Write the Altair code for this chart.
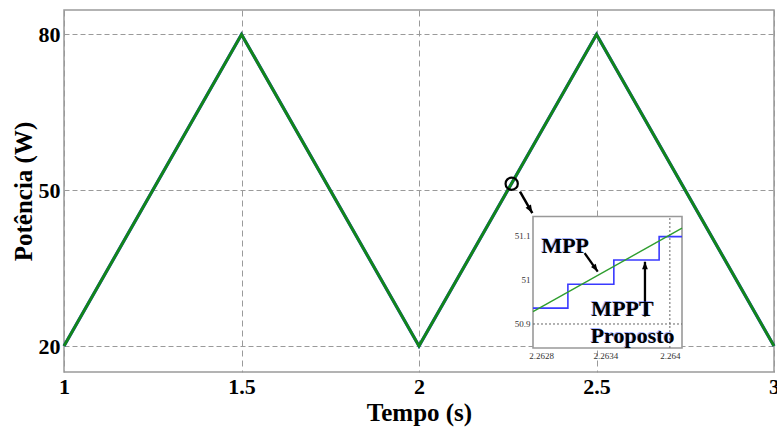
import altair as alt
import pandas as pd

# ---------------- data ----------------
tempo = [1.0, 1.5, 2.0, 2.5, 3.0]
potencia = [20, 80, 20, 80, 20]

# inset (zoom) data
inset_t_green = [2.262725, 2.264113]
inset_p_green = [50.928, 51.117]
inset_t_blue = [2.262725, 2.26305, 2.263478, 2.2639, 2.264113]
inset_p_blue = [50.936, 50.990, 51.045, 51.098, 51.098]

inset_xdomain = [2.262725, 2.264113]
inset_ydomain = [50.8456, 51.1435]
inset_xticks = [2.2628, 2.2634, 2.264]
inset_yticks = [50.9, 51.0, 51.1]
inset_gridx = [2.264]
inset_gridy = [50.9]

x_ticks = [1, 1.5, 2, 2.5, 3]
y_ticks = [20, 50, 80]

marker_t = [2.2611]
marker_p = [51.25]
arrow_main = {"t0": [2.2845], "p0": [49.71], "t1": [2.3192], "p1": [45.6]}
arrow_mpp = {"t0": [2.263206], "p0": [51.0605], "t1": [2.263328], "p1": [51.0188]}
arrow_mppt = {"t0": [2.263768], "p0": [50.917], "t1": [2.263768], "p1": [51.041]}

labels_txt = ["MPP", "MPPT", "Proposto"]
labels_t = [2.263025, 2.263559, 2.263653]
labels_p = [51.077, 50.935, 50.873]

W, H = 710, 362
FONT = "Liberation Serif"
GREEN = "#12861a"
BLUE = "#3a3aff"
ARROW = "M0,0 L-0.65,1.7 L0.65,1.7 Z"
NUM = "'' + datum.value"

main_df = pd.DataFrame({"t": tempo, "p": potencia})
mk_df = pd.DataFrame({"t": marker_t, "p": marker_p})
am_df = pd.DataFrame(arrow_main)

sx = alt.Scale(domain=[1, 3], nice=False, zero=False)
sy = alt.Scale(domain=[15, 84.7], nice=False, zero=False)

ax_x = alt.Axis(values=x_ticks, labelExpr=NUM, grid=True, gridDash=[6, 4], gridColor="#9a9a9a",
                gridWidth=1, domain=False, ticks=False, labelFont=FONT, labelFontWeight="bold",
                labelFontSize=22, labelColor="black", labelPadding=4, labelFlush=False,
                title="Tempo (s)", titleFont=FONT, titleFontWeight="bold", titleFontSize=25,
                titleColor="black", titlePadding=3)
ax_y = alt.Axis(values=y_ticks, labelExpr=NUM, grid=True, gridDash=[5, 3], gridColor="#9a9a9a",
                gridWidth=1, domain=False, ticks=False, labelFont=FONT, labelFontWeight="bold",
                labelFontSize=22, labelColor="black", labelPadding=4, labelFlush=False,
                title="Potência (W)", titleFont=FONT, titleFontWeight="bold", titleFontSize=25,
                titleColor="black", titlePadding=2)

mx = alt.X("t:Q", scale=sx, axis=ax_x)
my = alt.Y("p:Q", scale=sy, axis=ax_y)

blue_main = alt.Chart(main_df).mark_line(color=BLUE, strokeWidth=3.2).encode(x=mx, y=my)
green_main = alt.Chart(main_df).mark_line(color=GREEN, strokeWidth=3).encode(x=mx, y=my)
circle = alt.Chart(mk_df).mark_point(shape="circle", filled=False, color="black", strokeWidth=2.2,
                                     size=150, opacity=1).encode(x=mx, y=my)
shaft1 = alt.Chart(am_df).mark_rule(color="black", strokeWidth=2.5).encode(
    x=alt.X("t0:Q", scale=sx, axis=ax_x), y=alt.Y("p0:Q", scale=sy, axis=ax_y),
    x2="t1:Q", y2="p1:Q")
head1 = alt.Chart(am_df).mark_point(shape=ARROW, filled=True, color="black", size=90,
                                    angle=150, opacity=1).encode(
    x=alt.X("t1:Q", scale=sx, axis=ax_x), y=alt.Y("p1:Q", scale=sy, axis=ax_y))

main_group = alt.layer(blue_main, green_main, circle, shaft1, head1)

# ---------------- inset ----------------
isx = alt.Scale(domain=inset_xdomain, range=[469, 618], nice=False, zero=False)
isy = alt.Scale(domain=inset_ydomain, range=[338, 206.5], nice=False, zero=False)
iax_x = alt.Axis(values=inset_xticks, labelExpr=NUM, orient="bottom", offset=-24, grid=False,
                 domain=False, ticks=False, labelFont=FONT, labelFontSize=9, labelColor="#333",
                 labelPadding=3, labelFlush=False, title=None)
iax_y = alt.Axis(values=inset_yticks, labelExpr=NUM, orient="left", offset=-469, grid=False,
                 domain=False, ticks=False, labelFont=FONT, labelFontSize=9, labelColor="#333",
                 labelPadding=3, labelFlush=False, title=None)

box_df = pd.DataFrame({"x0": [inset_xdomain[0]], "x1": [inset_xdomain[1]],
                       "y0": [inset_ydomain[0]], "y1": [inset_ydomain[1]]})
box = alt.Chart(box_df).mark_rect(fill="white", stroke="#999999", strokeWidth=1.6).encode(
    x=alt.X("x0:Q", scale=isx, axis=iax_x), x2="x1:Q",
    y=alt.Y("y0:Q", scale=isy, axis=iax_y), y2="y1:Q")

gx_df = pd.DataFrame({"gx": inset_gridx, "y0": [inset_ydomain[0]], "y1": [inset_ydomain[1]]})
gridx = alt.Chart(gx_df).mark_rule(color="#666", strokeWidth=1, strokeDash=[2, 2]).encode(
    x=alt.X("gx:Q", scale=isx, axis=iax_x),
    y=alt.Y("y0:Q", scale=isy, axis=iax_y), y2="y1:Q")
gy_df = pd.DataFrame({"gy": inset_gridy, "x0": [inset_xdomain[0]], "x1": [inset_xdomain[1]]})
gridy = alt.Chart(gy_df).mark_rule(color="#666", strokeWidth=1, strokeDash=[2, 2]).encode(
    y=alt.Y("gy:Q", scale=isy, axis=iax_y),
    x=alt.X("x0:Q", scale=isx, axis=iax_x), x2="x1:Q")

blue_df = pd.DataFrame({"t": inset_t_blue, "p": inset_p_blue})
green_df = pd.DataFrame({"t": inset_t_green, "p": inset_p_green})
ix = alt.X("t:Q", scale=isx, axis=iax_x)
iy = alt.Y("p:Q", scale=isy, axis=iax_y)
blue_in = alt.Chart(blue_df).mark_line(color=BLUE, strokeWidth=1.6, interpolate="step-after").encode(x=ix, y=iy)
green_in = alt.Chart(green_df).mark_line(color="#2f9e2f", strokeWidth=1.4).encode(x=ix, y=iy)

arr_df = pd.DataFrame({k: arrow_mpp[k] + arrow_mppt[k] for k in arrow_mpp})
arr_df["ang"] = [145, 0]
shafts = alt.Chart(arr_df).mark_rule(color="black", strokeWidth=2.3).encode(
    x=alt.X("t0:Q", scale=isx, axis=iax_x), y=alt.Y("p0:Q", scale=isy, axis=iax_y),
    x2="t1:Q", y2="p1:Q")
heads = alt.Chart(arr_df).mark_point(shape=ARROW, filled=True, color="black", size=80,
                                     opacity=1).encode(
    x=alt.X("t1:Q", scale=isx, axis=iax_x), y=alt.Y("p1:Q", scale=isy, axis=iax_y),
    angle=alt.Angle("ang:Q", scale=None))

lab_df = pd.DataFrame({"txt": labels_txt, "t": labels_t, "p": labels_p})
labels_shadow = alt.Chart(lab_df).mark_text(font=FONT, fontWeight="bold", fontSize=22,
                                            color="#3050ff", opacity=0.45, dx=-1, dy=-1,
                                            align="center", baseline="middle").encode(
    x=ix, y=iy, text="txt:N")
labels = alt.Chart(lab_df).mark_text(font=FONT, fontWeight="bold", fontSize=22, color="black",
                                     align="center", baseline="middle").encode(
    x=ix, y=iy, text="txt:N")

inset_group = alt.layer(box, gridx, gridy, blue_in, green_in, shafts, heads, labels_shadow, labels)

chart = alt.layer(main_group, inset_group).resolve_scale(
    x="independent", y="independent").resolve_axis(x="independent", y="independent").properties(
    width=W, height=H, autosize=alt.AutoSizeParams(type="none"),
    padding={"left": 64, "top": 10, "right": 3, "bottom": 55}, background="white"
).configure_view(stroke="#9a9a9a", strokeWidth=1.5)

chart.save("out.html", embed_options={"renderer": "svg", "actions": False})
